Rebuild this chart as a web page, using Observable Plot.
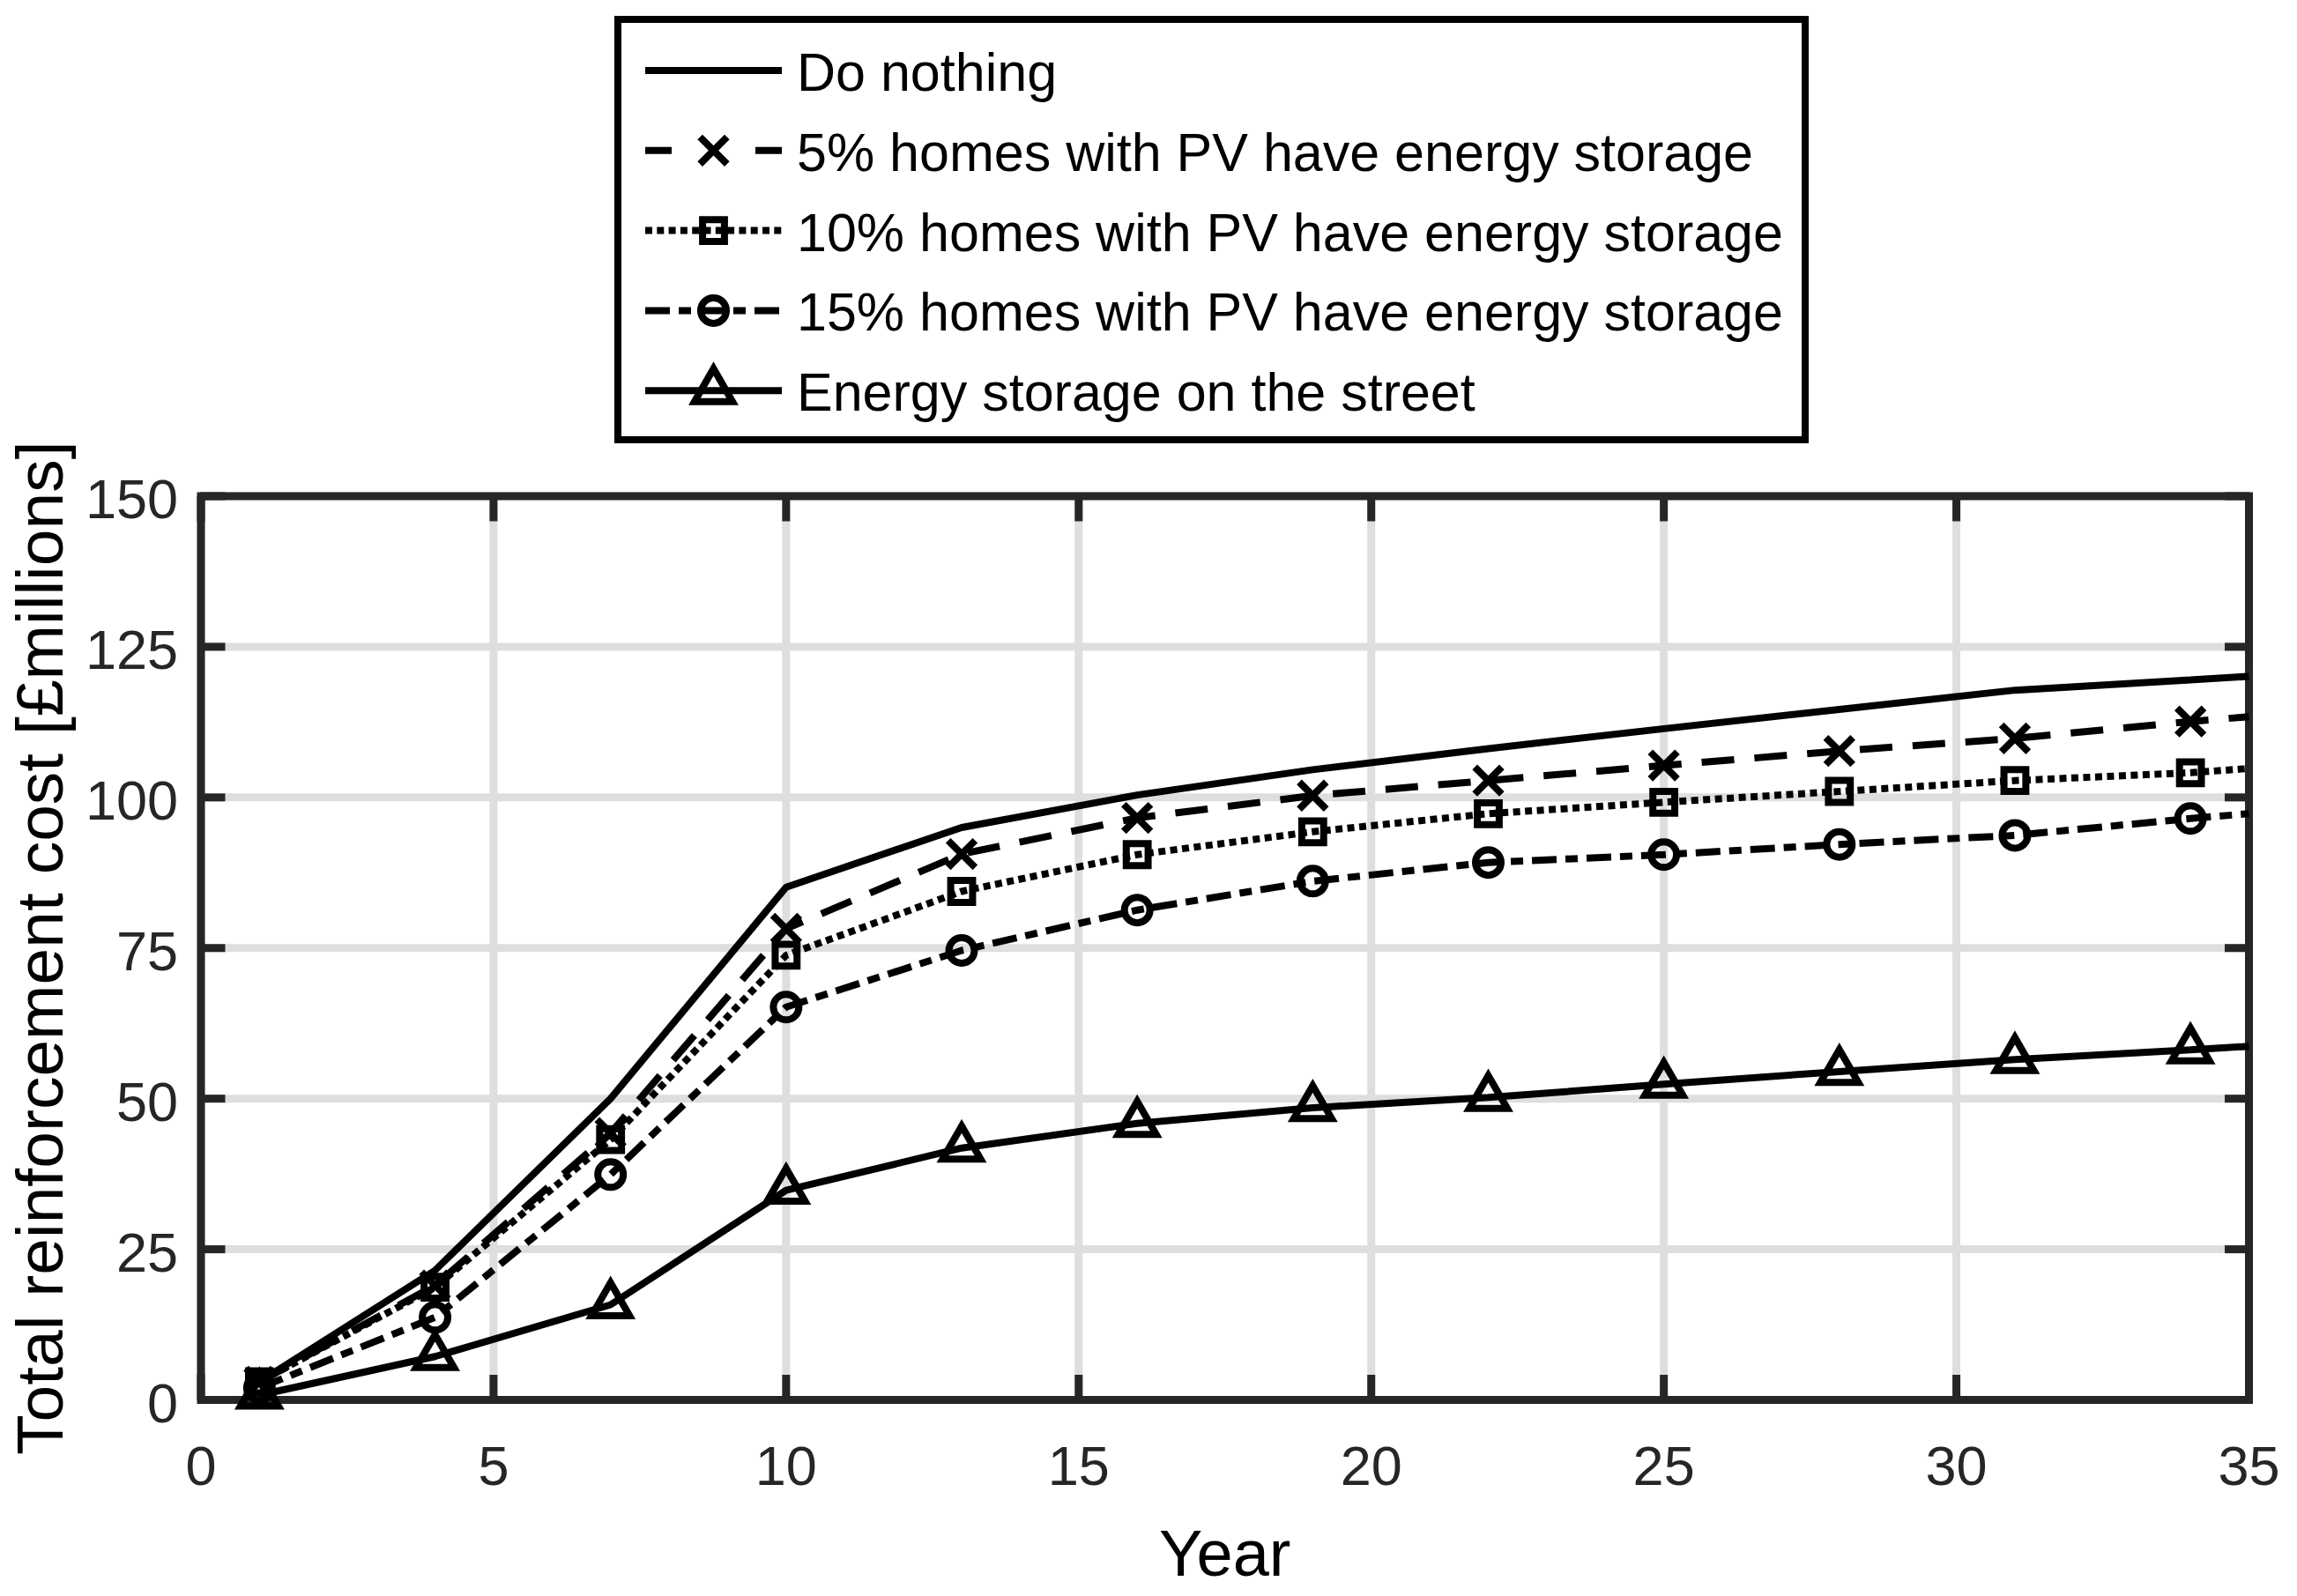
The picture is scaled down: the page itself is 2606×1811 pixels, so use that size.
<!DOCTYPE html>
<html><head><meta charset="utf-8">
<script src="https://cdn.jsdelivr.net/npm/d3@7"></script>
<script src="https://cdn.jsdelivr.net/npm/@observablehq/plot@0.6"></script>
<style>
html,body{margin:0;padding:0;background:#fff;}
body{width:2606px;height:1811px;overflow:hidden;font-family:"Liberation Sans",Arial,sans-serif;}
#legendWrap{height:510px;position:relative;}
#legend{position:absolute;left:697px;top:18px;}
#chart svg{display:block;}
</style></head><body>
<div id="legendWrap"><div id="legend"></div></div>
<div id="chart"></div>
<script>
// ---- data ----
const years = [1, 4, 7, 10, 13, 16, 19, 22, 25, 28, 31, 34, 35];
const markerYears = [1, 4, 7, 10, 13, 16, 19, 22, 25, 28, 31, 34];
const seriesNames = [
  "Do nothing",
  "5% homes with PV have energy storage",
  "10% homes with PV have energy storage",
  "15% homes with PV have energy storage",
  "Energy storage on the street"
];
const doNothing = [3, 21.5, 50, 85.1, 95, 100.4, 104.6, 108.1, 111.4, 114.6, 117.8, 119.5, 120.1];
const pv5       = [3, 19, 44.3, 78.2, 90.6, 96.6, 100.3, 102.8, 105.3, 107.7, 109.8, 112.6, 113.4];
const pv10      = [3, 18.7, 43.2, 73.8, 84.4, 90.5, 94.3, 97.3, 99.2, 101, 102.8, 104.1, 104.8];
const pv15      = [2, 13.7, 37.4, 65.2, 74.6, 81.3, 86.1, 89.2, 90.5, 92.2, 93.7, 96.5, 97.3];
const street    = [0.8, 7.2, 15.8, 34.8, 41.8, 45.9, 48.5, 50.2, 52.4, 54.5, 56.5, 58.1, 58.7];
const xTicks = [0, 5, 10, 15, 20, 25, 30, 35];
const yTicks = [0, 25, 50, 75, 100, 125, 150];
const xLabel = "Year";
const yLabel = "Total reinforcement cost [£millions]";

// ---- styles ----
const seriesValues = [doNothing, pv5, pv10, pv15, street];
const styles = [
  {dash: null, legendDash: null, symbol: null},
  {dash: "37,23", legendDash: "30,95", symbol: "times", r: 14},
  {dash: "8,5.5", legendDash: "8,5.3", symbol: "square", r: 14},
  {dash: "28,10,14,10", legendDash: "28,10,14,10", symbol: "circle", r: 14.5},
  {dash: null, legendDash: null, symbol: "triangle", r: 16}
];
const d3Symbols = {times: d3.symbolTimes, square: d3.symbolSquare, circle: d3.symbolCircle, triangle: d3.symbolTriangle};
const LINE_W = 8;

const rows = [];
seriesNames.forEach((name, i) => {
  years.forEach((yr, j) => rows.push({series: name, idx: i, year: yr, value: seriesValues[i][j]}));
});

const FONT = '"Liberation Sans", Arial, sans-serif';
const AX = "#262626";
const W = 2606, H = 1301;

const lineMarks = seriesNames.map((name, i) => Plot.line(rows.filter(d => d.idx === i), {
  x: "year", y: "value", stroke: "black", strokeWidth: LINE_W,
  strokeDasharray: styles[i].dash || undefined,
  strokeLinecap: "butt", strokeLinejoin: "miter"
}));
const dotMarks = seriesNames.map((name, i) => styles[i].symbol ? Plot.dot(
  rows.filter(d => d.idx === i && markerYears.includes(d.year)), {
  x: "year", y: "value", symbol: styles[i].symbol, r: styles[i].r,
  fill: "none", stroke: "black", strokeWidth: LINE_W, strokeLinejoin: "miter", strokeLinecap: "butt"
}) : null).filter(Boolean);

const chart = Plot.plot({
  width: W, height: H,
  marginLeft: 227.5, marginRight: 55, marginTop: 52.5, marginBottom: 223,
  style: {fontFamily: FONT, fontSize: "63px", color: AX, background: "white", overflow: "visible"},
  x: {domain: [0, 35]},
  y: {domain: [0, 150]},
  marks: [
    Plot.gridX(xTicks, {stroke: "#dedede", strokeOpacity: 1, strokeWidth: 9}),
    Plot.gridY(yTicks, {stroke: "#dedede", strokeOpacity: 1, strokeWidth: 9}),
    Plot.axisX(xTicks, {anchor: "bottom", tickSize: -28, tickPadding: 80, strokeWidth: 9, stroke: AX, label: null, fontSize: 63}),
    Plot.axisX(xTicks, {anchor: "top", tickSize: -28, tickFormat: () => "", strokeWidth: 9, stroke: AX, label: null}),
    Plot.axisY(yTicks, {anchor: "left", tickSize: 0, tickPadding: 26, dy: 5, label: null, fontSize: 63}),
    Plot.axisY(yTicks, {anchor: "left", tickSize: -28, tickFormat: () => "", strokeWidth: 9, stroke: AX, label: null}),
    Plot.axisY(yTicks, {anchor: "right", tickSize: -28, tickFormat: () => "", strokeWidth: 9, stroke: AX, label: null}),
    Plot.frame({stroke: AX, strokeWidth: 9}),
    ...lineMarks,
    ...dotMarks,
    Plot.text([xLabel], {text: d => d, frameAnchor: "bottom", textAnchor: "middle", lineAnchor: "middle", dy: 176, fontSize: 74, fill: "black"}),
    Plot.text([yLabel], {text: d => d, frameAnchor: "left", textAnchor: "middle", lineAnchor: "middle", rotate: -90, dx: -181, fontSize: 75, fill: "black"})
  ]
});
document.getElementById("chart").appendChild(chart);

// ---- legend ----
const LW = 1355, LH = 485;
const lsvg = d3.select("#legend").append("svg").attr("width", LW).attr("height", LH);
lsvg.append("rect").attr("x", 4).attr("y", 4).attr("width", LW - 8).attr("height", LH - 8)
  .attr("fill", "white").attr("stroke", "black").attr("stroke-width", 8);
seriesNames.forEach((name, i) => {
  const cy = 62 + i * 90.8;
  const st = styles[i];
  const g = lsvg.append("g");
  const ln = g.append("line").attr("x1", 35).attr("x2", 190).attr("y1", cy).attr("y2", cy)
    .attr("stroke", "black").attr("stroke-width", LINE_W).attr("stroke-linecap", "butt");
  if (st.legendDash) ln.attr("stroke-dasharray", st.legendDash);
  if (st.symbol) {
    g.append("path").attr("d", d3.symbol(d3Symbols[st.symbol], Math.PI * st.r * st.r)())
      .attr("transform", `translate(112.5,${cy})`).attr("fill", "none").attr("stroke", "black")
      .attr("stroke-width", LINE_W).attr("stroke-linejoin", "miter");
  }
  g.append("text").attr("x", 207).attr("y", cy + 23).attr("font-family", FONT)
    .attr("font-size", 61).attr("fill", "black").text(name);
});
</script>
</body></html>
